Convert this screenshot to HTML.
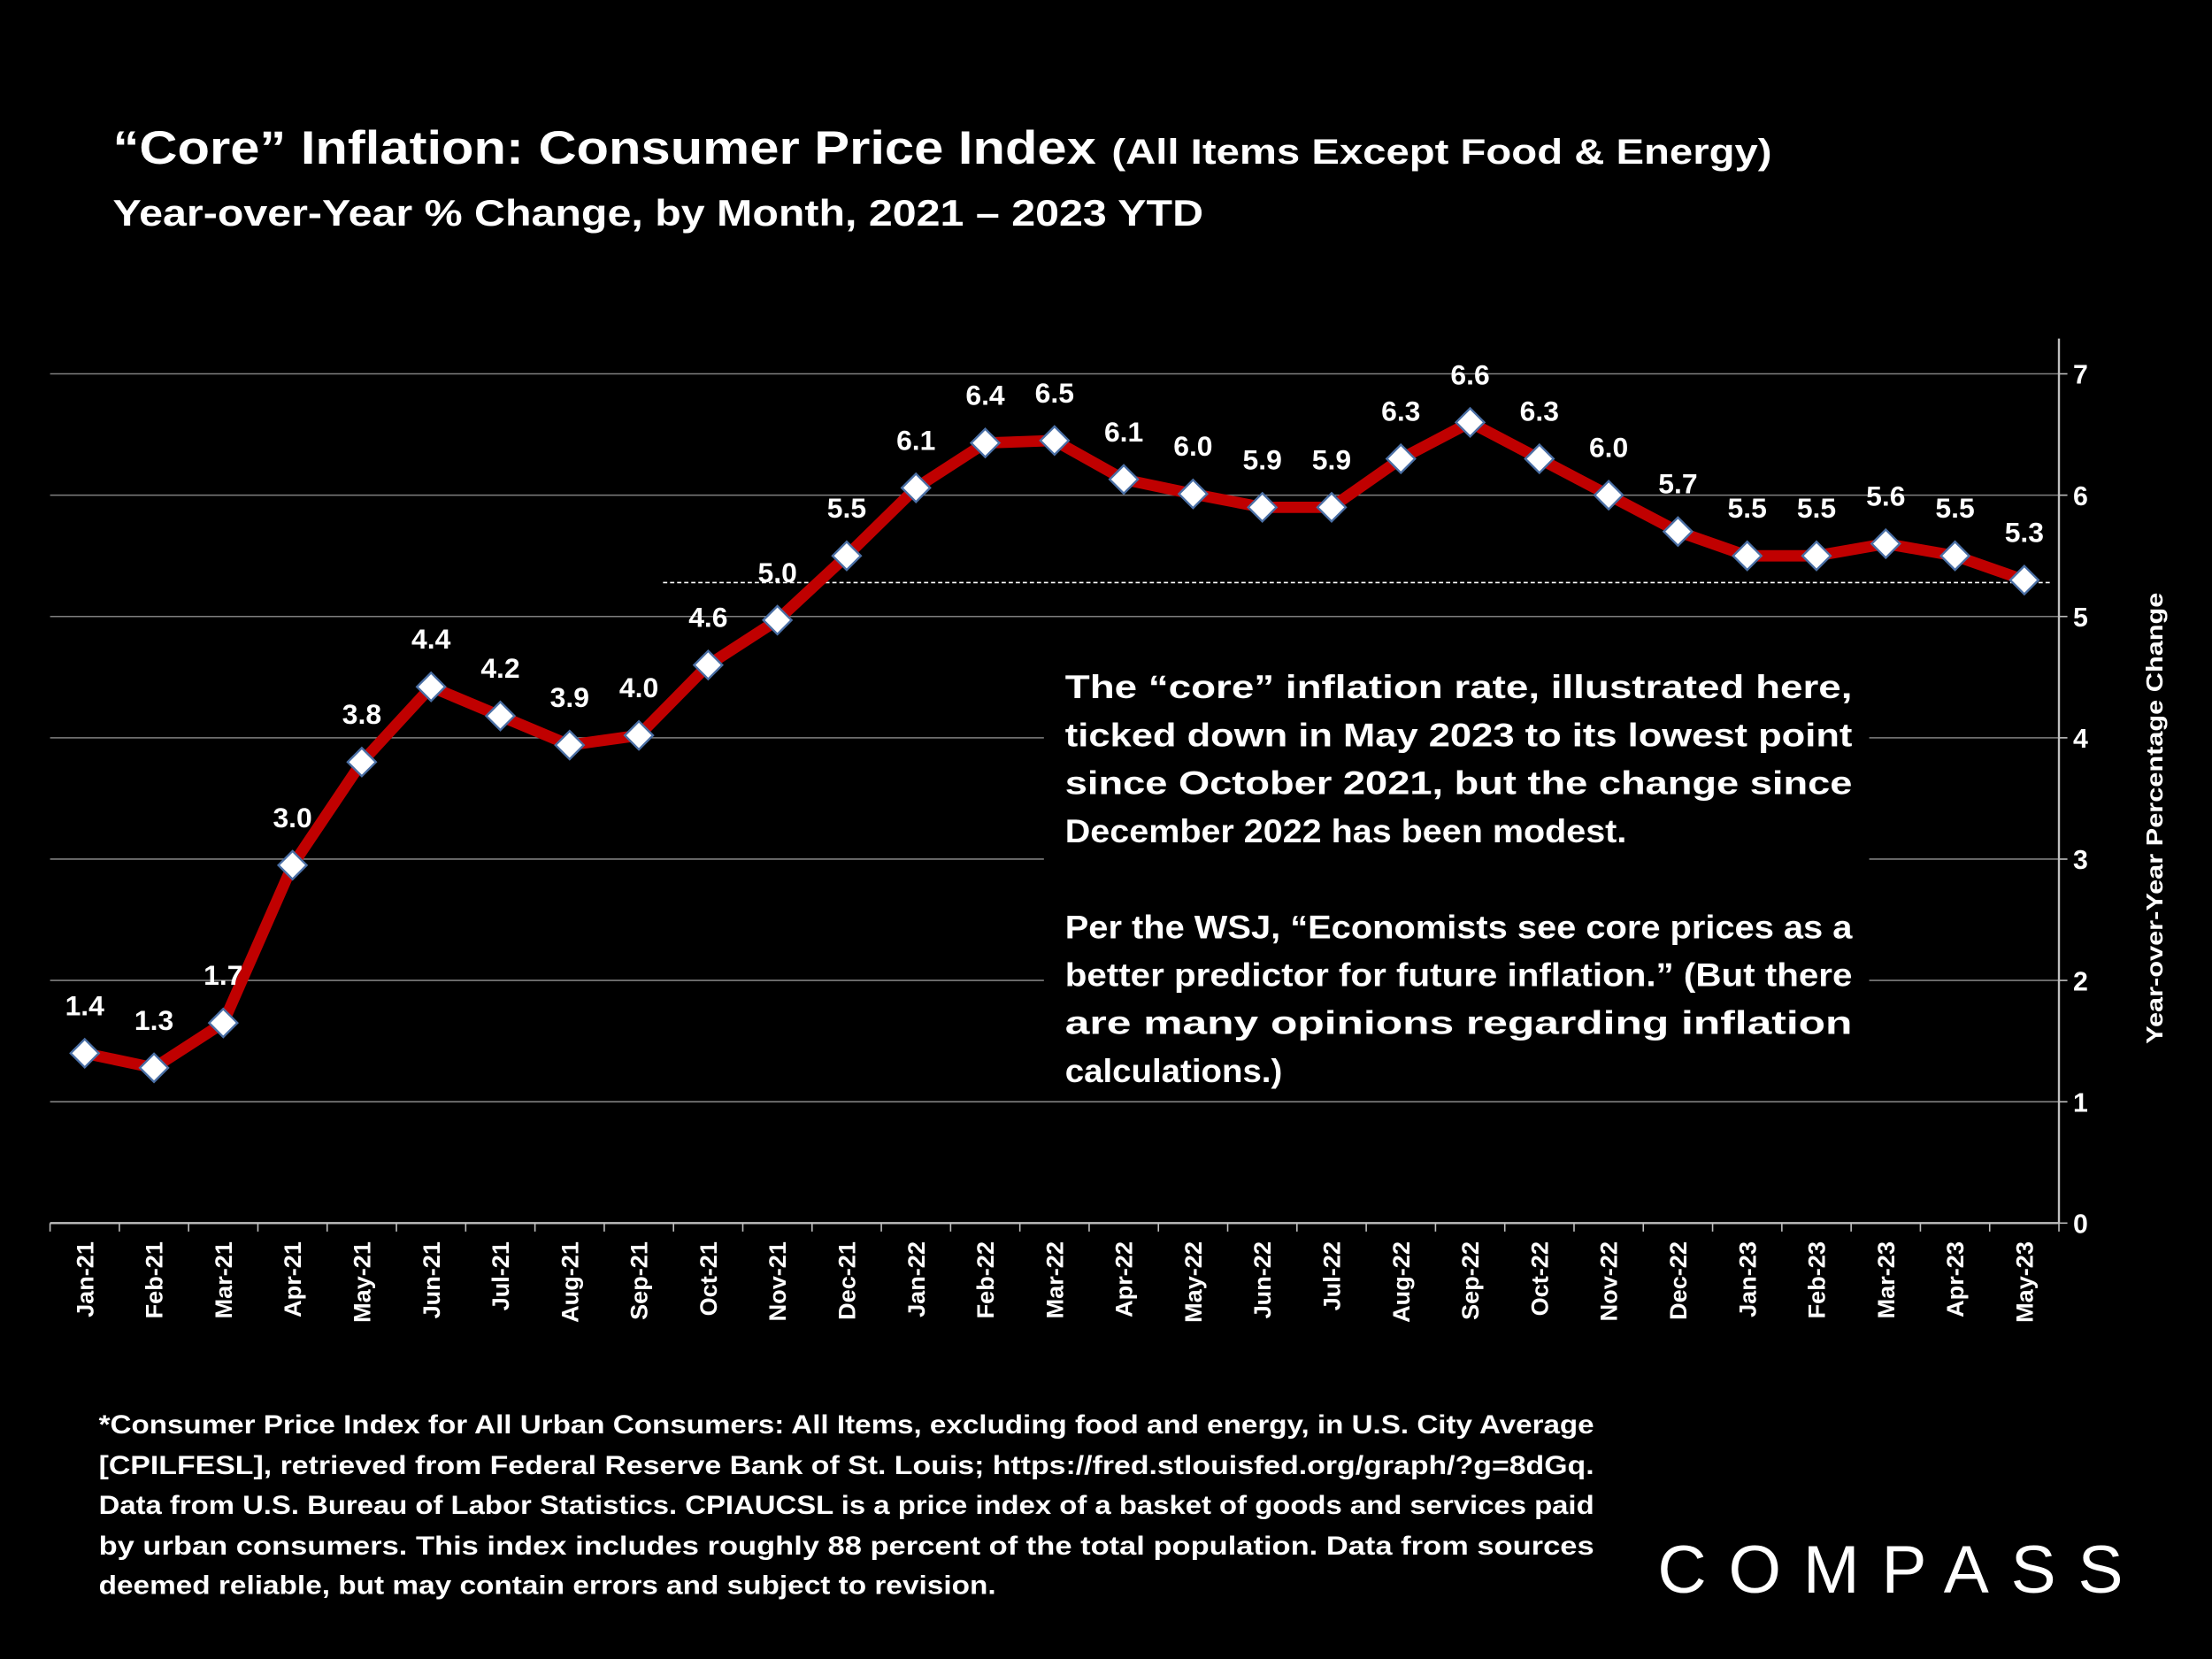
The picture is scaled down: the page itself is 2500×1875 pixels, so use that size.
<!DOCTYPE html>
<html><head><meta charset="utf-8"><style>
html,body{margin:0;padding:0;background:#000;}
svg{display:block;}
text{font-family:"Liberation Sans",sans-serif;font-weight:bold;fill:#fff;}
</style></head><body>
<svg id="chart" width="2500" height="1875" viewBox="0 0 1568 1176" xmlns="http://www.w3.org/2000/svg">
<rect width="1568" height="1176" fill="#000"/>
<text x="80" y="116" font-size="33" textLength="697" lengthAdjust="spacingAndGlyphs">“Core” Inflation: Consumer Price Index</text>
<text x="788" y="116" font-size="25" textLength="468" lengthAdjust="spacingAndGlyphs">(All Items Except Food &amp; Energy)</text>
<text x="80" y="160" font-size="26" textLength="773" lengthAdjust="spacingAndGlyphs">Year-over-Year % Change, by Month, 2021 – 2023 YTD</text>
<g id="grid"></g>
<g id="axes"></g>
<line x1="470" y1="413" x2="1455" y2="413" stroke="#fff" stroke-width="1" stroke-dasharray="3,2"/>
<g id="series"></g>
<rect x="740" y="468" width="585" height="312" fill="#000"/>
<g font-size="23">
<text x="755" y="495" textLength="558" lengthAdjust="spacingAndGlyphs">The “core” inflation rate, illustrated here,</text>
<text x="755" y="529" textLength="558" lengthAdjust="spacingAndGlyphs">ticked down in May 2023 to its lowest point</text>
<text x="755" y="563" textLength="558" lengthAdjust="spacingAndGlyphs">since October 2021, but the change since</text>
<text x="755" y="597" textLength="398" lengthAdjust="spacingAndGlyphs">December 2022 has been modest.</text>
<text x="755" y="665" textLength="558" lengthAdjust="spacingAndGlyphs">Per the WSJ, “Economists see core prices as a</text>
<text x="755" y="699" textLength="558" lengthAdjust="spacingAndGlyphs">better predictor for future inflation.” (But there</text>
<text x="755" y="733" textLength="558" lengthAdjust="spacingAndGlyphs">are many opinions regarding inflation</text>
<text x="755" y="767" textLength="154" lengthAdjust="spacingAndGlyphs">calculations.)</text>
</g>
<text transform="translate(1533,580) rotate(-90)" text-anchor="middle" font-size="16" textLength="320" lengthAdjust="spacingAndGlyphs">Year-over-Year Percentage Change</text>
<g font-size="18.5">
<text x="70" y="1016" textLength="1060" lengthAdjust="spacingAndGlyphs">*Consumer Price Index for All Urban Consumers: All Items, excluding food and energy, in U.S. City Average</text>
<text x="70" y="1045" textLength="1060" lengthAdjust="spacingAndGlyphs">[CPILFESL], retrieved from Federal Reserve Bank of St. Louis; https://fred.stlouisfed.org/graph/?g=8dGq.</text>
<text x="70" y="1073" textLength="1060" lengthAdjust="spacingAndGlyphs">Data from U.S. Bureau of Labor Statistics. CPIAUCSL is a price index of a basket of goods and services paid</text>
<text x="70" y="1102" textLength="1060" lengthAdjust="spacingAndGlyphs">by urban consumers. This index includes roughly 88 percent of the total population. Data from sources</text>
<text x="70" y="1130" textLength="636" lengthAdjust="spacingAndGlyphs">deemed reliable, but may contain errors and subject to revision.</text>
</g>
<text x="1175" y="1129" font-size="48" font-weight="normal" style="font-weight:normal" textLength="330" lengthAdjust="spacing">COMPASS</text>
</svg>
<script>
const categories=["Jan-21","Feb-21","Mar-21","Apr-21","May-21","Jun-21","Jul-21","Aug-21","Sep-21","Oct-21","Nov-21","Dec-21","Jan-22","Feb-22","Mar-22","Apr-22","May-22","Jun-22","Jul-22","Aug-22","Sep-22","Oct-22","Nov-22","Dec-22","Jan-23","Feb-23","Mar-23","Apr-23","May-23"];
const values=[1.4,1.28,1.65,2.95,3.8,4.42,4.18,3.94,4.02,4.6,4.97,5.5,6.06,6.43,6.45,6.13,6.01,5.9,5.9,6.3,6.6,6.3,6.0,5.7,5.5,5.5,5.6,5.5,5.3];
const valueLabels=["1.4","1.3","1.7","3.0","3.8","4.4","4.2","3.9","4.0","4.6","5.0","5.5","6.1","6.4","6.5","6.1","6.0","5.9","5.9","6.3","6.6","6.3","6.0","5.7","5.5","5.5","5.6","5.5","5.3"];
const yTicks=[0,1,2,3,4,5,6,7];
const NS="http://www.w3.org/2000/svg";
const L=35.5,R=1459.5,Y0=867,YT=265,YMAX=7;
const band=(R-L)/categories.length;
const xs=i=>L+band*(i+0.5);
const ys=v=>Y0-(v/YMAX)*(Y0-YT);
function mk(tag,attrs,parent){const e=document.createElementNS(NS,tag);for(const k in attrs)e.setAttribute(k,attrs[k]);parent.appendChild(e);return e;}
const grid=document.getElementById('grid'),axes=document.getElementById('axes'),series=document.getElementById('series');
yTicks.forEach(t=>{
  if(t>0){const g=mk('line',{x1:L,x2:R,y1:ys(t),y2:ys(t),stroke:'#7f7f7f','stroke-width':1},grid);
  
  }
  const tk=mk('line',{x1:R,x2:R+6,y1:ys(t),y2:ys(t),stroke:'#bfbfbf','stroke-width':1},axes);
  
  
  const lb=mk('text',{x:R+10,y:ys(t)+7,'font-size':19},axes);lb.textContent=t;
  
  
});
const xa=mk('line',{x1:L,x2:R,y1:Y0,y2:Y0,stroke:'#bfbfbf','stroke-width':1.5},axes);


const ya=mk('line',{x1:R,x2:R,y1:240,y2:Y0,stroke:'#bfbfbf','stroke-width':1.5},axes);


for(let i=0;i<=categories.length;i++){
  const t=mk('line',{x1:L+band*i,x2:L+band*i,y1:Y0,y2:Y0+6,stroke:'#bfbfbf','stroke-width':1},axes);
  
  
}
categories.forEach((c,i)=>{
  const t=mk('text',{transform:`translate(${xs(i)+6},880) rotate(-90)`,'text-anchor':'end','font-size':17},axes);
  t.textContent=c;
  
  
});
const pts=values.map((v,i)=>xs(i)+','+ys(v)).join(' ');
const pl=mk('polyline',{points:pts,fill:'none',stroke:'#c00000','stroke-width':8,'stroke-linejoin':'round'},series);


values.forEach((v,i)=>{
  const x=xs(i),y=ys(v),s=10;
  const d=mk('polygon',{points:`${x},${y-s} ${x+s},${y} ${x},${y+s} ${x-s},${y}`,fill:'#fff',stroke:'#4a6fa5','stroke-width':1.5},series);
  
  
  const t=mk('text',{x:x,y:y-27,'text-anchor':'middle','font-size':20},series);
  t.textContent=valueLabels[i];
  
  
});
</script>
</body></html>
